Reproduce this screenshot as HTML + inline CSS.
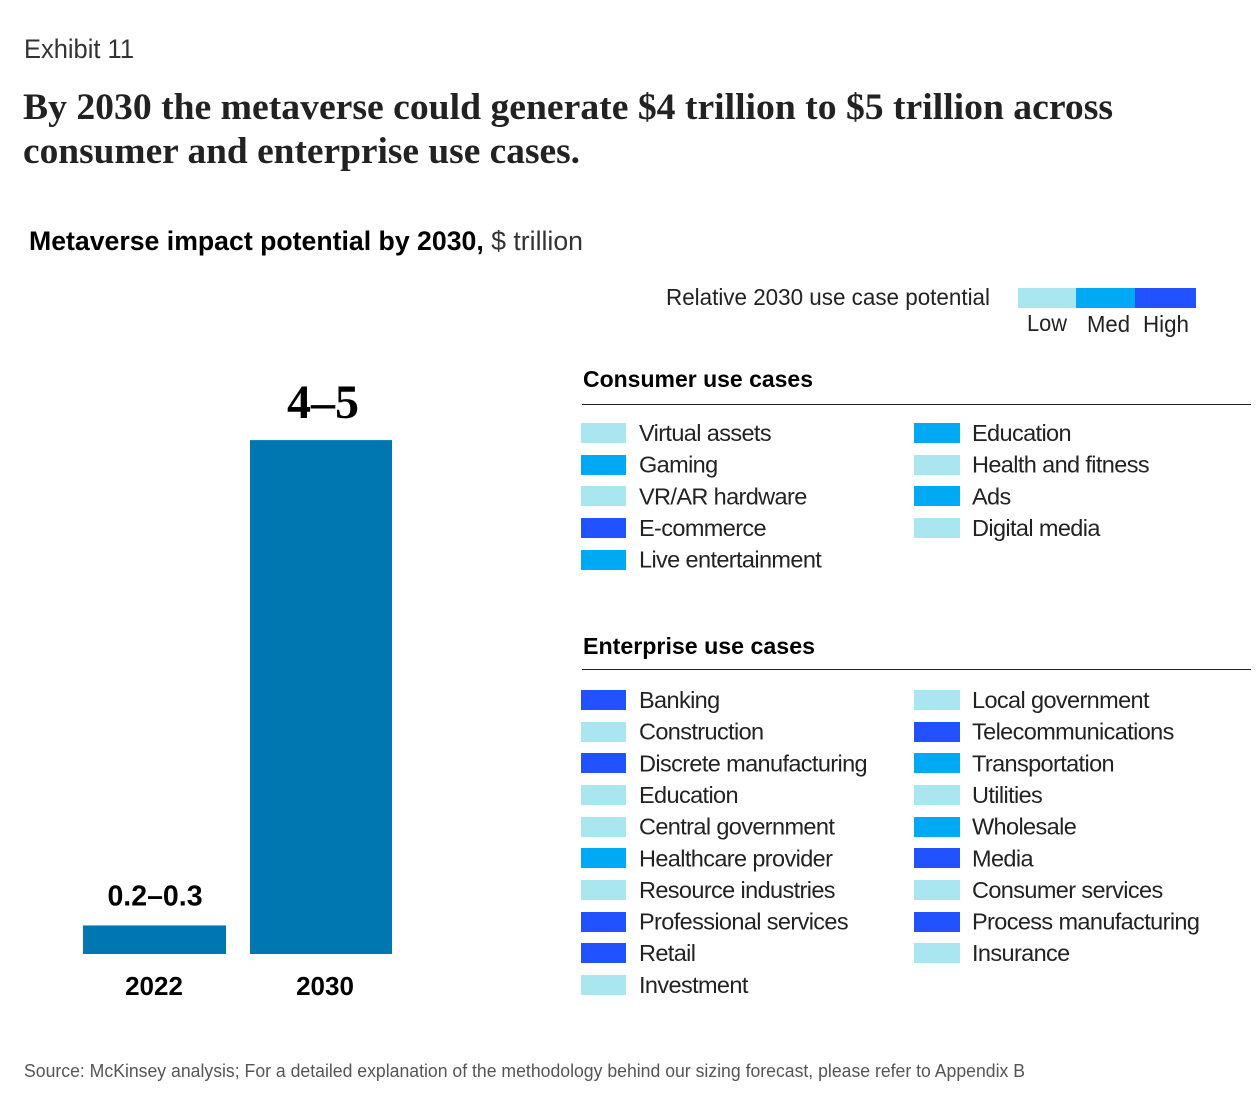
<!DOCTYPE html>
<html lang="en">
<head>
<meta charset="utf-8">
<title>Exhibit 11</title>
<style>
html,body{margin:0;padding:0;background:#fff;}
svg{display:block;}
text{font-family:"Liberation Sans",sans-serif;fill:#111;}
.serif{font-family:"Liberation Serif",serif;font-weight:700;}
.lbl{font-size:23.5px;letter-spacing:-0.62px;fill:#222;}
.head{font-size:23.5px;font-weight:700;fill:#000;}
</style>
</head>
<body>
<svg id="chart" xmlns="http://www.w3.org/2000/svg" width="1260" height="1104" viewBox="0 0 1260 1104">
  <rect x="0" y="0" width="1260" height="1104" fill="#fff"/>
  <text x="24" y="58" font-size="27" textLength="110" lengthAdjust="spacingAndGlyphs" style="fill:#333">Exhibit 11</text>
  <text class="serif" x="23" y="119" font-size="37.5" textLength="1090" lengthAdjust="spacingAndGlyphs" style="fill:#222">By 2030 the metaverse could generate $4 trillion to $5 trillion across</text>
  <text class="serif" x="23" y="163" font-size="37.5" textLength="557" lengthAdjust="spacingAndGlyphs" style="fill:#222">consumer and enterprise use cases.</text>
  <text x="29" y="250" font-size="27" textLength="554" lengthAdjust="spacingAndGlyphs"><tspan font-weight="700" style="fill:#000">Metaverse impact potential by 2030,</tspan><tspan style="fill:#333"> $ trillion</tspan></text>

  <text x="666" y="305" font-size="23.5" textLength="324" lengthAdjust="spacingAndGlyphs" style="fill:#222">Relative 2030 use case potential</text>
  <rect x="1018" y="288" width="58" height="20" fill="#AAE6F0"/>
  <rect x="1076" y="288" width="59" height="20" fill="#00A9F4"/>
  <rect x="1135" y="288" width="61" height="20" fill="#2251FF"/>
  <text x="1027" y="331" font-size="23.5" textLength="40" lengthAdjust="spacingAndGlyphs" style="fill:#222">Low</text>
  <text x="1087" y="332" font-size="23.5" textLength="43" lengthAdjust="spacingAndGlyphs" style="fill:#222">Med</text>
  <text x="1143" y="332" font-size="23.5" textLength="46" lengthAdjust="spacingAndGlyphs" style="fill:#222">High</text>

  <text class="head" x="583" y="387" textLength="230" lengthAdjust="spacingAndGlyphs">Consumer use cases</text>
  <line x1="582" y1="404.5" x2="1251" y2="404.5" stroke="#222" stroke-width="1"/>
  <text class="head" x="583" y="654" textLength="232" lengthAdjust="spacingAndGlyphs">Enterprise use cases</text>
  <line x1="582" y1="669.5" x2="1251" y2="669.5" stroke="#222" stroke-width="1"/>

  <g id="bars"></g>
  <g id="legend"></g>

  <text x="24" y="1077" font-size="18" textLength="1001" lengthAdjust="spacingAndGlyphs" style="fill:#555">Source: McKinsey analysis; For a detailed explanation of the methodology behind our sizing forecast, please refer to Appendix B</text>
</svg>
<script>
var categories = ["2022", "2030"];
var impactValues = [0.25, 4.5];
var valueLabels = ["0.2\u20130.3", "4\u20135"];

var consumerCol1 = ["Virtual assets", "Gaming", "VR/AR hardware", "E-commerce", "Live entertainment"];
var consumerCol1Levels = ["low", "med", "low", "high", "med"];
var consumerCol2 = ["Education", "Health and fitness", "Ads", "Digital media"];
var consumerCol2Levels = ["med", "low", "med", "low"];
var enterpriseCol1 = ["Banking", "Construction", "Discrete manufacturing", "Education", "Central government", "Healthcare provider", "Resource industries", "Professional services", "Retail", "Investment"];
var enterpriseCol1Levels = ["high", "low", "high", "low", "low", "med", "low", "high", "high", "low"];
var enterpriseCol2 = ["Local government", "Telecommunications", "Transportation", "Utilities", "Wholesale", "Media", "Consumer services", "Process manufacturing", "Insurance"];
var enterpriseCol2Levels = ["low", "high", "med", "low", "med", "high", "low", "high", "low"];

var levelColors = {low: "#AAE6F0", med: "#00A9F4", high: "#2251FF"};
var NS = "http://www.w3.org/2000/svg";
var baselineY = 954;
var pxPerUnit = 114.2;

function yScale(v) { return baselineY - v * pxPerUnit; }
function barX(i) { return 83 + 167 * i; }
function barWidth(i) { return i === 0 ? 143 : 142; }
function tickX(i) { return 154 + 171 * i; }
function valueX(i) { return 155 + 168 * i; }

function slug(s) { return s.toLowerCase().replace(/[^a-z0-9]+/g, "-").replace(/^-|-$/g, ""); }

var barsGroup = document.getElementById("bars");
categories.forEach(function (cat, i) {
  var r = document.createElementNS(NS, "rect");
  
  
  r.setAttribute("x", barX(i));
  r.setAttribute("y", yScale(impactValues[i]));
  r.setAttribute("width", barWidth(i));
  r.setAttribute("height", baselineY - yScale(impactValues[i]));
  r.setAttribute("fill", "#0077B0");
  barsGroup.appendChild(r);

  var v = document.createElementNS(NS, "text");
  
  
  v.setAttribute("x", valueX(i));
  v.setAttribute("text-anchor", "middle");
  if (i === impactValues.length - 1) {
    v.setAttribute("y", yScale(impactValues[i]) - 22);
    v.setAttribute("class", "serif");
    v.setAttribute("font-size", "48");
    v.setAttribute("style", "fill:#000");
  } else {
    v.setAttribute("y", yScale(impactValues[i]) - 20);
    v.setAttribute("font-size", "28.5");
    v.setAttribute("font-weight", "700");
    v.setAttribute("style", "fill:#000");
  }
  v.textContent = valueLabels[i];
  barsGroup.appendChild(v);

  var t = document.createElementNS(NS, "text");
  
  
  t.setAttribute("x", tickX(i));
  t.setAttribute("y", 995);
  t.setAttribute("text-anchor", "middle");
  t.setAttribute("font-size", "26");
  t.setAttribute("font-weight", "700");
  t.setAttribute("style", "fill:#000");
  t.textContent = cat;
  barsGroup.appendChild(t);
});

var legendGroup = document.getElementById("legend");
function drawColumn(prefix, labels, levels, swatchX, swatchW, textX, topY) {
  labels.forEach(function (label, i) {
    var y = topY + 31.65 * i;
    var s = document.createElementNS(NS, "rect");
    
    
    s.setAttribute("x", swatchX);
    s.setAttribute("y", Math.round(y));
    s.setAttribute("width", swatchW);
    s.setAttribute("height", 20);
    s.setAttribute("fill", levelColors[levels[i]]);
    legendGroup.appendChild(s);

    var t = document.createElementNS(NS, "text");
    
    
    t.setAttribute("class", "lbl");
    t.setAttribute("x", textX);
    t.setAttribute("y", y + 18);
    t.textContent = label;
    legendGroup.appendChild(t);
  });
}
drawColumn("consumer", consumerCol1, consumerCol1Levels, 581, 45, 639, 423);
drawColumn("consumer", consumerCol2, consumerCol2Levels, 914, 46, 972, 423);
drawColumn("enterprise", enterpriseCol1, enterpriseCol1Levels, 581, 45, 639, 690);
drawColumn("enterprise", enterpriseCol2, enterpriseCol2Levels, 914, 46, 972, 690);
</script>
</body>
</html>
